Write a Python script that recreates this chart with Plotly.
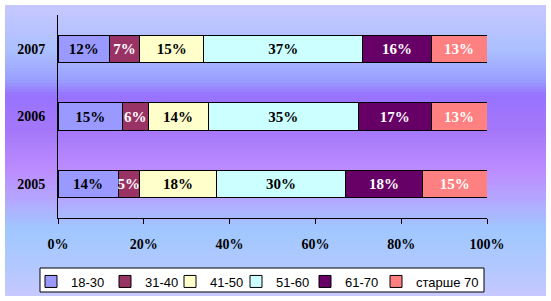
import plotly.graph_objects as go

years = ["2005", "2006", "2007"]
groups = ["18-30", "31-40", "41-50", "51-60", "61-70", "старше 70"]
values = {
    "18-30": [14, 15, 12],
    "31-40": [5, 6, 7],
    "41-50": [18, 14, 15],
    "51-60": [30, 35, 37],
    "61-70": [18, 17, 16],
    "старше 70": [15, 13, 13],
}
colors = ["#9999ff", "#993366", "#ffffcc", "#ccffff", "#660066", "#ff8080"]
text_colors = ["black", "white", "black", "black", "white", "white"]
xticks = [0, 20, 40, 60, 80, 100]

W, H = 551, 301
L, R, T, B = 58, 487, 15, 218
legend_px = [31, 105, 170, 236, 305, 376]  # left edge of each legend entry, px

fig = go.Figure()
for i, (g, c, tc) in enumerate(zip(groups, colors, text_colors)):
    fig.add_trace(go.Bar(
        y=years, x=values[g], name=g, orientation="h",
        marker=dict(color=c, line=dict(color="black", width=1)),
        text=[f"{v}%" for v in values[g]], textposition="inside",
        insidetextanchor="middle", textangle=0,
        textfont=dict(family="Liberation Serif", size=15, color=tc, weight="bold"),
        hoverinfo="skip",
        legend="legend" if i == 0 else f"legend{i + 1}",
    ))

# background gradient (styling)
stops = [
    (5, (200, 200, 255)), (50, (172, 192, 255)),
    (80, (155, 160, 255)), (95, (152, 115, 255)), (130, (165, 120, 250)),
    (170, (188, 140, 255)), (200, (180, 168, 255)), (230, (160, 200, 255)),
    (270, (180, 200, 255)), (296, (200, 200, 255)),
]

def col_at(py):
    for (a, ca), (b, cb) in zip(stops[:-1], stops[1:]):
        if a <= py <= b and b > a:
            t = (py - a) / (b - a)
            return tuple(int(ca[i] + (cb[i] - ca[i]) * t) for i in range(3))
    return stops[-1][1]

def px2x(px):
    return (px - L) / (R - L)

def py2y(py):
    return (B - py) / (B - T)

shapes = []
step = 3
for py in range(5, 296, step):
    c = col_at(py + step / 2)
    shapes.append(dict(type="rect", xref="paper", yref="paper", layer="below",
                       x0=px2x(5), x1=px2x(546),
                       y0=py2y(py), y1=py2y(min(py + step, 296)),
                       line=dict(width=0), fillcolor=f"rgb{c}"))
# legend box
shapes.append(dict(type="rect", xref="paper", yref="paper", layer="below",
                   x0=px2x(40), x1=px2x(484), y0=py2y(268), y1=py2y(292),
                   line=dict(color="black", width=1), fillcolor="white"))

legend_common = dict(orientation="h", yanchor="top", y=py2y(266.5), xanchor="left",
                     bgcolor="rgba(0,0,0,0)", borderwidth=0,
                     font=dict(family="Liberation Sans", size=13, color="black"),
                     itemwidth=30, tracegroupgap=0, traceorder="normal")

legends = {}
for i, lx in enumerate(legend_px):
    key = "legend" if i == 0 else f"legend{i + 1}"
    legends[key] = dict(x=px2x(lx), **legend_common)

fig.update_layout(
    width=W, height=H,
    margin=dict(l=L, r=W - R, t=T, b=H - B, autoexpand=False),
    barmode="stack", bargap=0.6,
    paper_bgcolor="white", plot_bgcolor="rgba(0,0,0,0)",
    shapes=shapes,
    uniformtext=dict(minsize=15, mode="show"),
    xaxis=dict(range=[0, 100], tickvals=xticks, ticktext=[f"{v}%" for v in xticks],
               showgrid=False, zeroline=False, showline=True, linecolor="black", linewidth=1,
               ticks="outside", ticklen=5, tickcolor="black", ticklabelstandoff=8,
               tickfont=dict(family="Liberation Serif", size=14, color="black", weight="bold")),
    yaxis=dict(categoryorder="array", categoryarray=years,
               showgrid=False, zeroline=False, showline=True, linecolor="black", linewidth=1,
               ticks="", ticklabelstandoff=9,
               tickfont=dict(family="Liberation Serif", size=14, color="black", weight="bold")),
    showlegend=True,
    **legends,
)

fig.write_html("out.html")
